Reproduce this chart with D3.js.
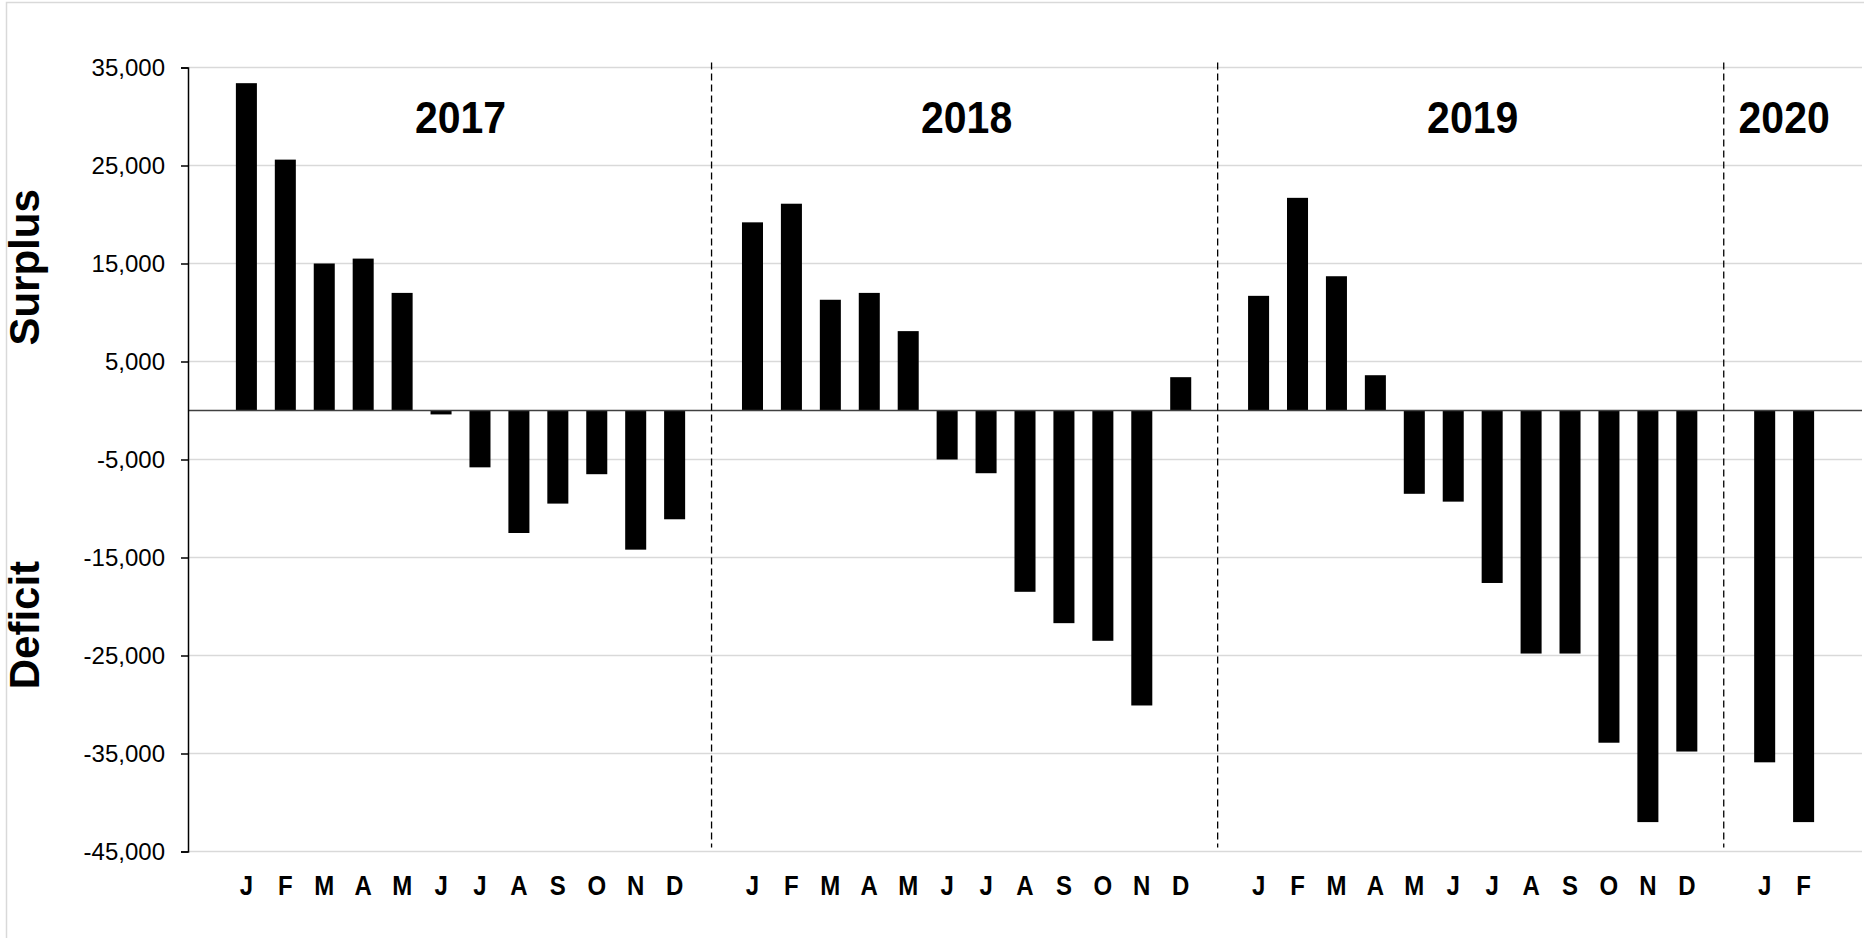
<!DOCTYPE html>
<html>
<head>
<meta charset="utf-8">
<script src="https://cdn.jsdelivr.net/npm/d3@7"></script>
<style>
  body { margin: 0; background: #fff; }
  svg { display: block; font-family: "Liberation Sans", Arial, sans-serif; }
</style>
</head>
<body>
<div id="chart"></div>
<script>
var w = 1864;
var h = 938;

// data
var years = ["2017", "2018", "2019", "2020"];
var months = ["J", "F", "M", "A", "M", "J", "J", "A", "S", "O", "N", "D"];
var values2017 = [33400, 25600, 15000, 15500, 12000, -400, -5800, -12500, -9500, -6500, -14200, -11100];
var values2018 = [19200, 21100, 11300, 12000, 8100, -5000, -6400, -18500, -21700, -23500, -30100, 3400];
var values2019 = [11700, 21700, 13700, 3600, -8500, -9300, -17600, -24800, -24800, -33900, -42000, -34800];
var values2020 = [-35900, -42000];
var yTicks = [35000, 25000, 15000, 5000, -5000, -15000, -25000, -35000, -45000];

var seriesByYear = [values2017, values2018, values2019, values2020];

// one slot per month, an empty slot before each year and one at the end
var slots = [];
var bars = [];
years.forEach(function (yr, i) {
    slots.push("gap" + i);
    seriesByYear[i].forEach(function (v, m) {
        var key = yr + "-" + m;
        slots.push(key);
        bars.push({ key: key, year: yr, month: months[m], value: v });
    });
});
slots.push("gapEnd");

var left = 188, right = 1862;

var x = d3.scaleBand().domain(slots).range([left, right]).paddingInner(0.46).paddingOuter(0.23);
var y = d3.scaleLinear().domain([-45000, 35000]).range([851.5, 67.5]);

var svg = d3.select("#chart").append("svg")
    .attr("width", w)
    .attr("height", h)
    .style("background-color", "#fff");

// chart frame
svg.append("rect")
    .attr("x", 6.5).attr("y", 2.5)
    .attr("width", w - 5).attr("height", h)
    .attr("fill", "none")
    .attr("stroke", "#d9d9d9")
    .attr("stroke-width", 1.5);

// gridlines
svg.append("g").selectAll("line")
    .data(yTicks)
    .enter().append("line")
    .attr("x1", left).attr("x2", right)
    .attr("y1", function (d) { return y(d); })
    .attr("y2", function (d) { return y(d); })
    .attr("stroke", "#d9d9d9")
    .attr("stroke-width", 1.5);

// bars
svg.append("g").selectAll("rect")
    .data(bars)
    .enter().append("rect")
    .attr("x", function (d) { return x(d.key); })
    .attr("width", x.bandwidth())
    .attr("y", function (d) { return y(Math.max(0, d.value)); })
    .attr("height", function (d) { return Math.abs(y(d.value) - y(0)); })
    .attr("fill", "#000");

// zero line
svg.append("line")
    .attr("x1", left).attr("x2", right)
    .attr("y1", y(0)).attr("y2", y(0))
    .attr("stroke", "#404040")
    .attr("stroke-width", 1.6);

// dashed dividers between the years
var gapKeys = slots.filter(function (s) { return s.indexOf("gap") === 0 && s !== "gap0" && s !== "gapEnd"; });
svg.append("g").selectAll("line")
    .data(gapKeys)
    .enter().append("line")
    .attr("x1", function (d) { return x(d) + x.bandwidth() / 2 - 2; })
    .attr("x2", function (d) { return x(d) + x.bandwidth() / 2 - 2; })
    .attr("y1", y(35000) - 5)
    .attr("y2", y(-45000) - 4)
    .attr("stroke", "#000")
    .attr("stroke-width", 1.3)
    .attr("stroke-dasharray", "7,4");

// y axis
var yAxis = d3.axisLeft(y)
    .tickValues(yTicks)
    .tickSize(7)
    .tickPadding(16)
    .tickFormat(d3.format(","));

var gy = svg.append("g")
    .attr("transform", "translate(" + left + ",0)")
    .call(yAxis);
gy.select(".domain").attr("stroke", "#000").attr("stroke-width", 1.5);
gy.selectAll(".tick line").attr("stroke", "#000").attr("stroke-width", 1.5);
gy.selectAll(".tick text")
    .attr("fill", "#000")
    .style("font-size", "24px")
    .style("font-family", "'Liberation Sans', Arial, sans-serif")
    .text(function (d) { return d3.format(",")(d).replace("−", "-"); });

// month labels
svg.append("g").selectAll("text")
    .data(bars)
    .enter().append("text")
    .attr("transform", function (d) {
        return "translate(" + (x(d.key) + x.bandwidth() / 2) + ",895) scale(1,1.15)";
    })
    .attr("text-anchor", "middle")
    .style("font-size", "24px")
    .style("font-weight", "bold")
    .text(function (d) { return d.month; });

// year labels, centred over each year's months
svg.append("g").selectAll("text")
    .data(years)
    .enter().append("text")
    .attr("transform", function (d, i) {
        var keys = seriesByYear[i].map(function (v, m) { return d + "-" + m; });
        var cx = (x(keys[0]) + x(keys[keys.length - 1]) + x.bandwidth()) / 2;
        return "translate(" + cx + ",133) scale(1,1.1)";
    })
    .attr("text-anchor", "middle")
    .style("font-size", "41px")
    .style("font-weight", "bold")
    .text(function (d) { return d; });

// side labels
svg.append("text")
    .attr("transform", "translate(39," + y(14600) + ") rotate(-90)")
    .attr("text-anchor", "middle")
    .style("font-size", "42px")
    .style("font-weight", "bold")
    .text("Surplus");

svg.append("text")
    .attr("transform", "translate(39," + y(-21900) + ") rotate(-90)")
    .attr("text-anchor", "middle")
    .style("font-size", "42px")
    .style("font-weight", "bold")
    .text("Deficit");
</script>
</body>
</html>
